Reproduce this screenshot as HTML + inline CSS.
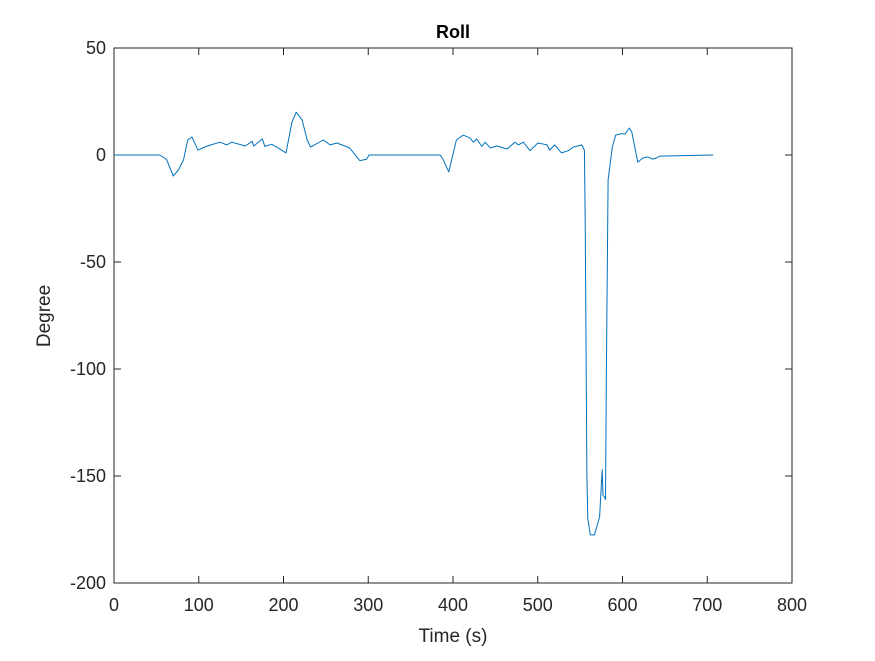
<!DOCTYPE html>
<html><head><meta charset="utf-8"><style>
html,body{margin:0;padding:0;background:#fff;}
svg text{font-family:"Liberation Sans",sans-serif;fill:#262626;}
</style></head><body>
<svg id="chart" width="875" height="656">
<rect x="0" y="0" width="875" height="656" fill="#fff"/>
<text x="453" y="38" text-anchor="middle" font-size="18" font-weight="bold" style="fill:#000">Roll</text>
<rect x="114" y="48" width="678" height="535" fill="none" stroke="#262626" stroke-width="1"/>
<g id="ticks"></g>
<path id="line" fill="none" stroke="#0072BD" stroke-width="1" stroke-linejoin="round"/>
<text x="453" y="642" text-anchor="middle" font-size="19">Time (s)</text>
<text transform="translate(50,316) rotate(-90)" text-anchor="middle" font-size="19">Degree</text>
</svg>
<script>
const xTicks=[0,100,200,300,400,500,600,700,800];
const yTicks=[50,0,-50,-100,-150,-200];
const times=[0,54,62,70,76,82,87,92,99,110,125,133,139,155,163,165,175,178,186,192,203,210,215,222,228,232,247,255,263,278,290,298,301,385,388,395,404,412,420,424,428,434,438,444,452,464,473,477,483,491,500,511,514,520,528,536,542,552,555,556,558,559,562,567,573,576,577,579,580,581,583,588,592,599,603,608,611,618,624,630,635,640,644,707];
const roll=[0,0,-2,-9.8,-7,-2.3,7,8.4,2.3,4.2,6,4.7,6,4.2,6.5,4.2,7.5,4,5,3.7,1,15.4,20,16.4,7,3.7,7,4.7,5.6,3.3,-2.6,-2,0,0,-1.8,-7.9,7,9.3,8,6,7.5,4,6,3.3,4.2,2.8,6,4.7,6,2,5.6,4.7,2.3,4.7,1,2,3.7,4.7,2.3,-30,-150,-170,-177.5,-177.5,-169,-147,-159,-160,-161,-100,-11.7,3.7,9.3,10,9.8,12.6,10.7,-3.3,-1.4,-0.9,-1.9,-1.4,-0.5,0];
const X=v=>114+(v-0)/800*678;
const Y=v=>48+(50-v)/250*535;
const NS='http://www.w3.org/2000/svg';
const g=document.getElementById('ticks');
function mk(tag,attrs){const e=document.createElementNS(NS,tag);for(const k in attrs)e.setAttribute(k,attrs[k]);return e;}
xTicks.forEach(t=>{
  const l=mk('line',{x1:X(t),x2:X(t),y1:583,y2:576,stroke:'#262626'});
  
  
  g.appendChild(l);
  const l2=mk('line',{x1:X(t),x2:X(t),y1:48,y2:55,stroke:'#262626'});
  
  
  g.appendChild(l2);
  const tx=mk('text',{x:X(t),y:611,'text-anchor':'middle','font-size':'18'});
  tx.textContent=t;
  
  
  g.appendChild(tx);
});
yTicks.forEach(t=>{
  const l=mk('line',{x1:114,x2:121,y1:Y(t),y2:Y(t),stroke:'#262626'});
  
  
  g.appendChild(l);
  const l2=mk('line',{x1:785,x2:792,y1:Y(t),y2:Y(t),stroke:'#262626'});
  
  
  g.appendChild(l2);
  const tx=mk('text',{x:106,y:Y(t)+6,'text-anchor':'end','font-size':'18'});
  tx.textContent=t;
  
  
  g.appendChild(tx);
});
document.getElementById('line').setAttribute('d',times.map((t,i)=>(i?'L':'M')+X(t).toFixed(1)+','+Y(roll[i]).toFixed(1)).join(''));
</script>
</body></html>
